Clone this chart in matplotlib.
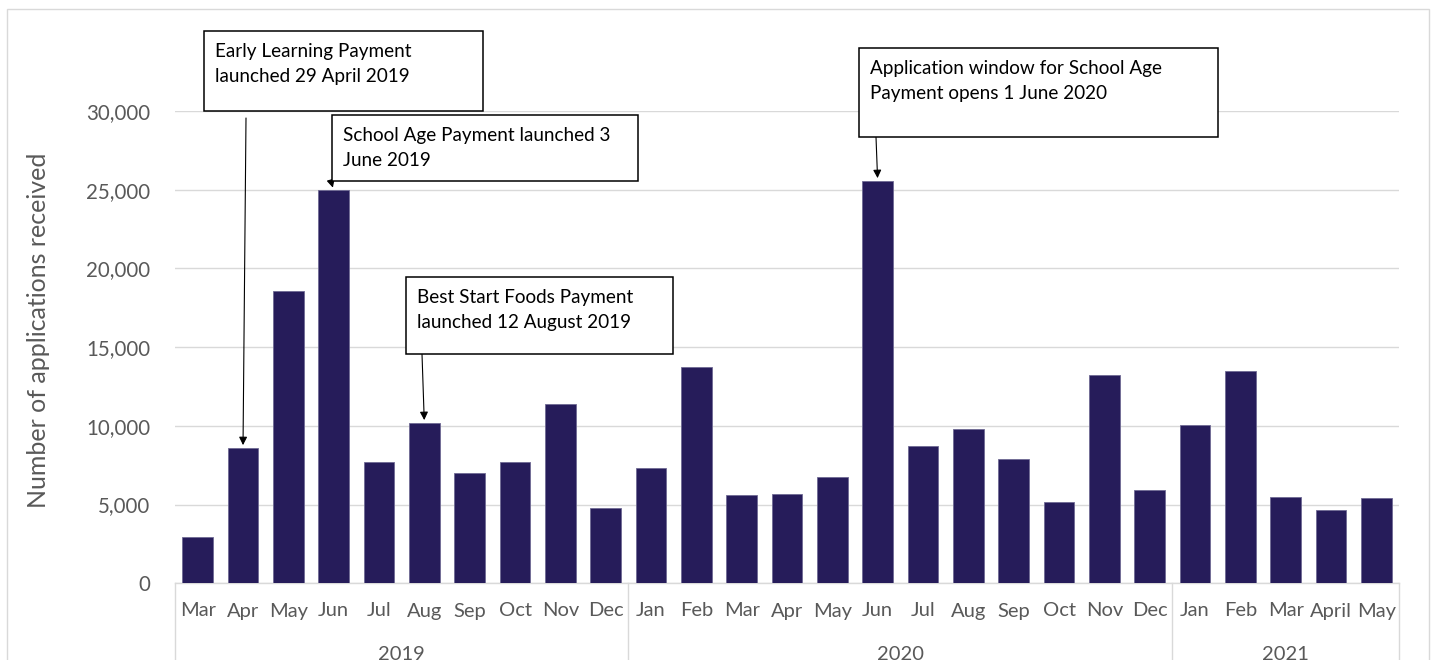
import matplotlib
matplotlib.use("Agg")
import matplotlib.pyplot as plt
from matplotlib.patches import Rectangle
from matplotlib.lines import Line2D
import matplotlib.transforms as mtransforms

# ---- data ----
months = ["Mar", "Apr", "May", "Jun", "Jul", "Aug", "Sep", "Oct", "Nov", "Dec",
          "Jan", "Feb", "Mar", "Apr", "May", "Jun", "Jul", "Aug", "Sep", "Oct", "Nov", "Dec",
          "Jan", "Feb", "Mar", "April", "May"]
years = ["2019", "2020", "2021"]
year_counts = [10, 12, 5]
applications = [2950, 8600, 18560, 24960, 7690, 10190, 7030, 7710, 11420, 4810,
                7330, 13730, 5610, 5700, 6780, 25560, 8710, 9790, 7900, 5150, 13200, 5930,
                10060, 13480, 5470, 4680, 5400]
yticks = [0, 5000, 10000, 15000, 20000, 25000, 30000]

annotation_texts = ["Early Learning Payment\nlaunched 29 April 2019",
                    "School Age Payment launched 3\nJune 2019",
                    "Best Start Foods Payment\nlaunched 12 August 2019",
                    "Application window for School Age\nPayment opens 1 June 2020"]
annotation_targets = [1, 3, 5, 15]

# ---- layout (pixels) ----
W, H = 1434, 660
def fx(x): return x / W
def fy(y): return 1 - y / H

BAR = "#261C5A"
GRID = "#D9D9D9"
TXT = "#595959"
FONT = ["Lato", "DejaVu Sans"]
plt.rcParams["font.family"] = FONT

fig = plt.figure(figsize=(W / 100, H / 100), dpi=100)
fig.patch.set_facecolor("white")

ax_l, ax_r, ax_t, ax_b = 175, 1399, 111, 583.3
ax = fig.add_axes([fx(ax_l), fy(ax_b), (ax_r - ax_l) / W, (ax_b - ax_t) / H])

x = list(range(len(applications)))
ax.bar(x, applications, width=0.68, color=BAR, edgecolor="#6f6a94", linewidth=0.6, zorder=3)
ax.set_xlim(-0.5, len(applications) - 0.5)
ax.set_ylim(0, 30000)
ax.set_yticks(yticks)
ax.set_yticklabels([f"{v:,}" for v in yticks], fontsize=14.8, color=TXT)
ax.tick_params(axis="y", length=0, pad=18)
ax.set_xticks([])
ax.yaxis.grid(True, color=GRID, lw=1)
ax.set_axisbelow(True)
for s in ["top", "right", "left"]:
    ax.spines[s].set_visible(False)
ax.spines["bottom"].set_color(GRID)
ax.spines["bottom"].set_linewidth(1)

ax.set_ylabel("Number of applications received", fontsize=18, color=TXT)
ax.yaxis.set_label_coords((50 - ax_l) / (ax_r - ax_l), 0.536)

# multi-level category axis
trans = mtransforms.blended_transform_factory(ax.transData, ax.transAxes)
ah = ax_b - ax_t
for i, m in enumerate(months):
    ax.text(i, (ax_b - 611) / ah, m, transform=trans, ha="center", va="center",
            fontsize=14.5, color=TXT)
start = 0
bounds = [-0.5]
for yr, n in zip(years, year_counts):
    center = start + (n - 1) / 2
    ax.text(center, (ax_b - 654) / ah, yr, transform=trans, ha="center", va="center",
            fontsize=14.5, color=TXT)
    start += n
    bounds.append(start - 0.5)
for b in bounds:
    ax.add_line(Line2D([b, b], [0, (ax_b - 670) / ah], transform=trans, color=GRID,
                       lw=1, clip_on=False))

# outer chart frame
fig.add_artist(Rectangle((fx(7), -0.05), fx(1429) - fx(7), fy(9) + 0.05,
                         transform=fig.transFigure, fill=False, edgecolor=GRID, lw=1, zorder=0))

# annotation boxes (pixel layout)
boxes = [(204, 31, 483, 111), (332, 115, 638, 181), (406, 277, 673, 354), (859, 48, 1218, 137)]
arrow_starts = [(246, 118), (331, 181), (422, 354), (876, 137)]
for text, tgt, (l, t, r, b), (sx, sy) in zip(annotation_texts, annotation_targets, boxes, arrow_starts):
    fig.add_artist(Rectangle((fx(l), fy(b)), (r - l) / W, (b - t) / H, transform=fig.transFigure,
                             facecolor="white", edgecolor="black", lw=1.1, zorder=5))
    fig.text(fx(l + 11), fy(t + 12), text, ha="left", va="top", fontsize=13.6,
             color="black", linespacing=1.6, zorder=6)
    ax.annotate("", xy=(tgt, applications[tgt]), xycoords="data",
                xytext=(fx(sx), fy(sy)), textcoords="figure fraction",
                arrowprops=dict(arrowstyle="-|>", color="black", lw=0.8,
                                mutation_scale=12, shrinkA=0, shrinkB=2),
                annotation_clip=False, zorder=4)

fig.savefig("out.png", dpi=100)
